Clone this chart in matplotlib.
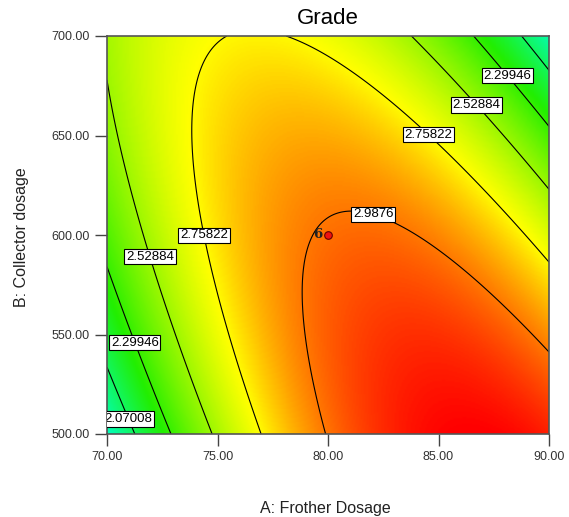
import numpy as np
import matplotlib.pyplot as plt
from matplotlib.colors import LinearSegmentedColormap

plt.rcParams['font.family'] = ['Liberation Sans', 'DejaVu Sans']

# quadratic model for Grade in coded units (A: 70..90, B: 500..700)
coef_names = ['const', 'A', 'B', 'AB', 'A2', 'B2']
coef_vals = [3.00091, 0.16050, -0.13919, -0.47392, -0.48406, -0.14554]

levels = [2.07008, 2.29946, 2.52884, 2.75822, 2.9876]
x_ticks = [70, 75, 80, 85, 90]
y_ticks = [500, 550, 600, 650, 700]

design_A = [80.0]
design_B = [600.0]
design_count = ['6']

# where the contour labels sit (A, B)
label_pos = [(71.3, 509), (71.5, 547), (88.0, 679), (72.2, 590),
             (86.6, 664), (74.5, 600), (84.6, 651), (82.2, 616)]

A = np.linspace(70, 90, 300)
B = np.linspace(500, 700, 300)
AA, BB = np.meshgrid(A, B)
x = (AA - 80) / 10
y = (BB - 600) / 100
c = dict(zip(coef_names, coef_vals))
Z = c['const'] + c['A']*x + c['B']*y + c['AB']*x*y + c['A2']*x**2 + c['B2']*y**2

cmap = LinearSegmentedColormap.from_list('de', [
    (0.0, '#00ffc8'),
    ((2.25 - 1.85) / 1.35, '#22ee00'),
    ((2.75 - 1.85) / 1.35, '#ffff00'),
    (1.0, '#ff0000')])

fig = plt.figure(figsize=(5.69, 5.17), dpi=100)
ax = fig.add_axes([107/569, 1 - 434/517, 442/569, 398/517])

ax.imshow(Z, extent=[70, 90, 500, 700], origin='lower', aspect='auto',
          cmap=cmap, vmin=1.85, vmax=3.20, interpolation='bilinear')
cs = ax.contour(AA, BB, Z, levels=levels, colors='k', linewidths=0.8)
labs = ax.clabel(cs, fmt=lambda v: ('%.5f' % v).rstrip('0'), inline=False,
                 manual=label_pos, fontsize=9.5)
for t in labs:
    t.set_rotation(0)
    t.set_bbox(dict(facecolor='white', edgecolor='black', linewidth=0.8, pad=1.2))

ax.scatter(design_A, design_B, s=30, color='#ee1111', edgecolor='#660000', linewidth=0.8, zorder=5)
for a, b, n in zip(design_A, design_B, design_count):
    ax.text(a - 0.25, b, n, ha='right', va='center', fontsize=9.5,
            fontweight='bold', family='DejaVu Serif', color='#222222')

ax.set_xlim(70, 90)
ax.set_ylim(500, 700)
ax.set_xticks(x_ticks)
ax.set_yticks(y_ticks)
ax.set_xticklabels(['%.2f' % v for v in x_ticks])
ax.set_yticklabels(['%.2f' % v for v in y_ticks])
ax.tick_params(direction='out', length=8.5, width=1, color='#444444',
               labelsize=9, labelcolor='#333333', pad=4)
for s in ax.spines.values():
    s.set_color('#555555')
    s.set_linewidth(1.2)

fig.text(328/569, 1 - 18/517, 'Grade', ha='center', va='center', fontsize=16)
fig.text(325/569, 1 - 508/517, 'A: Frother Dosage', ha='center', va='center',
         fontsize=11.5, color='#222222')
fig.text(22/569, 1 - 237/517, 'B: Collector dosage', ha='center', va='center',
         rotation=90, fontsize=11.5, color='#222222')

fig.savefig('out.png')
